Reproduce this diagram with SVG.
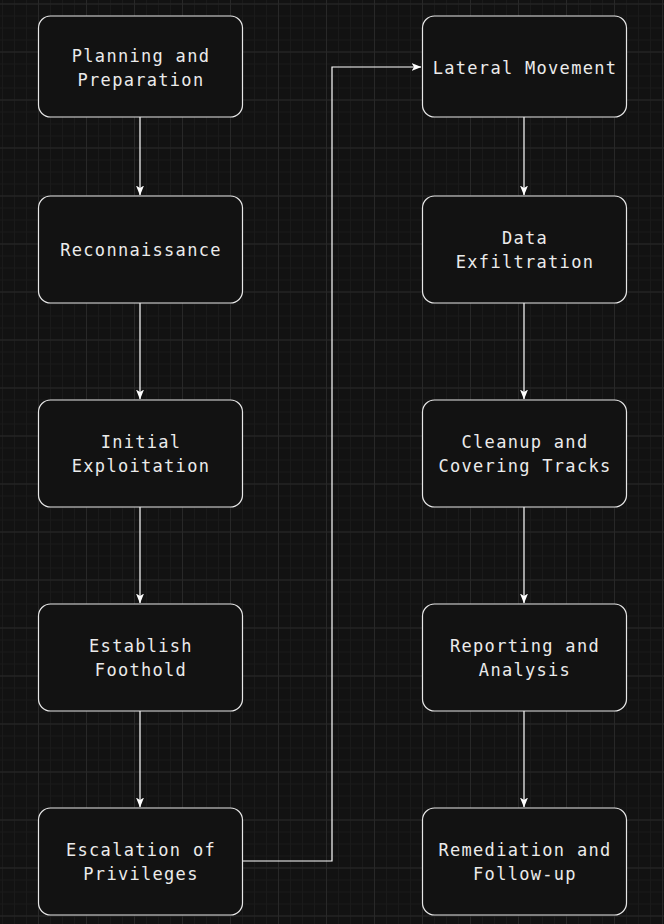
<svg xmlns="http://www.w3.org/2000/svg" width="664" height="924" viewBox="0 0 664 924">
<defs>
<pattern id="minor" x="2" y="3.5" width="12" height="12" patternUnits="userSpaceOnUse">
<path d="M 0 0.5 H 12 M 0.5 0 V 12" stroke="#1a1a1a" stroke-width="1" fill="none"/>
</pattern>
<pattern id="major" x="-10" y="3.5" width="48" height="48" patternUnits="userSpaceOnUse">
<path d="M 0 0.5 H 48 M 0.5 0 V 48" stroke="#282828" stroke-width="1" fill="none"/>
</pattern>
<marker id="arr" viewBox="0 0 10 10" refX="9.5" refY="5" markerWidth="10" markerHeight="10" markerUnits="userSpaceOnUse" orient="auto">
<path d="M 0 1 L 10 5 L 0 9 L 2.5 5 Z" fill="#ffffff"/>
</marker>
<style>
.box rect { fill: #121212; stroke: #e6e6e6; stroke-width: 1.2; }
.box text { fill: #ebebeb; font-family: "DejaVu Sans Mono", "Liberation Mono", monospace; font-size: 17px; letter-spacing: 1.3px; text-anchor: middle; dominant-baseline: central; }
.conn path { fill: none; stroke: #ffffff; stroke-width: 1.2; marker-end: url(#arr); }
</style>
</defs>
<rect width="664" height="924" fill="#121212"/>
<rect width="664" height="924" fill="url(#minor)"/>
<rect width="664" height="924" fill="url(#major)"/>

<g id="connectors" class="conn">
<path d="M 140 117 V 195"/>
<path d="M 140 303 V 399"/>
<path d="M 140 507 V 603"/>
<path d="M 140 711 V 807"/>
<path d="M 242 861 H 332 V 67 H 421"/>
<path d="M 524 117 V 195"/>
<path d="M 524 303 V 399"/>
<path d="M 524 507 V 603"/>
<path d="M 524 711 V 807"/>
</g>

<g id="planning" class="box"><rect x="38.5" y="16" width="204" height="101" rx="12"/><text x="141" y="56">Planning and</text><text x="141" y="80">Preparation</text></g>
<g id="recon" class="box"><rect x="38.5" y="196" width="204" height="107" rx="12"/><text x="141" y="250">Reconnaissance</text></g>
<g id="initial" class="box"><rect x="38.5" y="400" width="204" height="107" rx="12"/><text x="141" y="442">Initial</text><text x="141" y="466">Exploitation</text></g>
<g id="foothold" class="box"><rect x="38.5" y="604" width="204" height="107" rx="12"/><text x="141" y="646">Establish</text><text x="141" y="670">Foothold</text></g>
<g id="escalation" class="box"><rect x="38.5" y="808" width="204" height="107" rx="12"/><text x="141" y="850">Escalation of</text><text x="141" y="874">Privileges</text></g>

<g id="lateral" class="box"><rect x="422.5" y="16" width="204" height="101" rx="12"/><text x="525" y="68">Lateral Movement</text></g>
<g id="exfil" class="box"><rect x="422.5" y="196" width="204" height="107" rx="12"/><text x="525" y="238">Data</text><text x="525" y="262">Exfiltration</text></g>
<g id="cleanup" class="box"><rect x="422.5" y="400" width="204" height="107" rx="12"/><text x="525" y="442">Cleanup and</text><text x="525" y="466">Covering Tracks</text></g>
<g id="reporting" class="box"><rect x="422.5" y="604" width="204" height="107" rx="12"/><text x="525" y="646">Reporting and</text><text x="525" y="670">Analysis</text></g>
<g id="remediation" class="box"><rect x="422.5" y="808" width="204" height="107" rx="12"/><text x="525" y="850">Remediation and</text><text x="525" y="874">Follow-up</text></g>
</svg>
